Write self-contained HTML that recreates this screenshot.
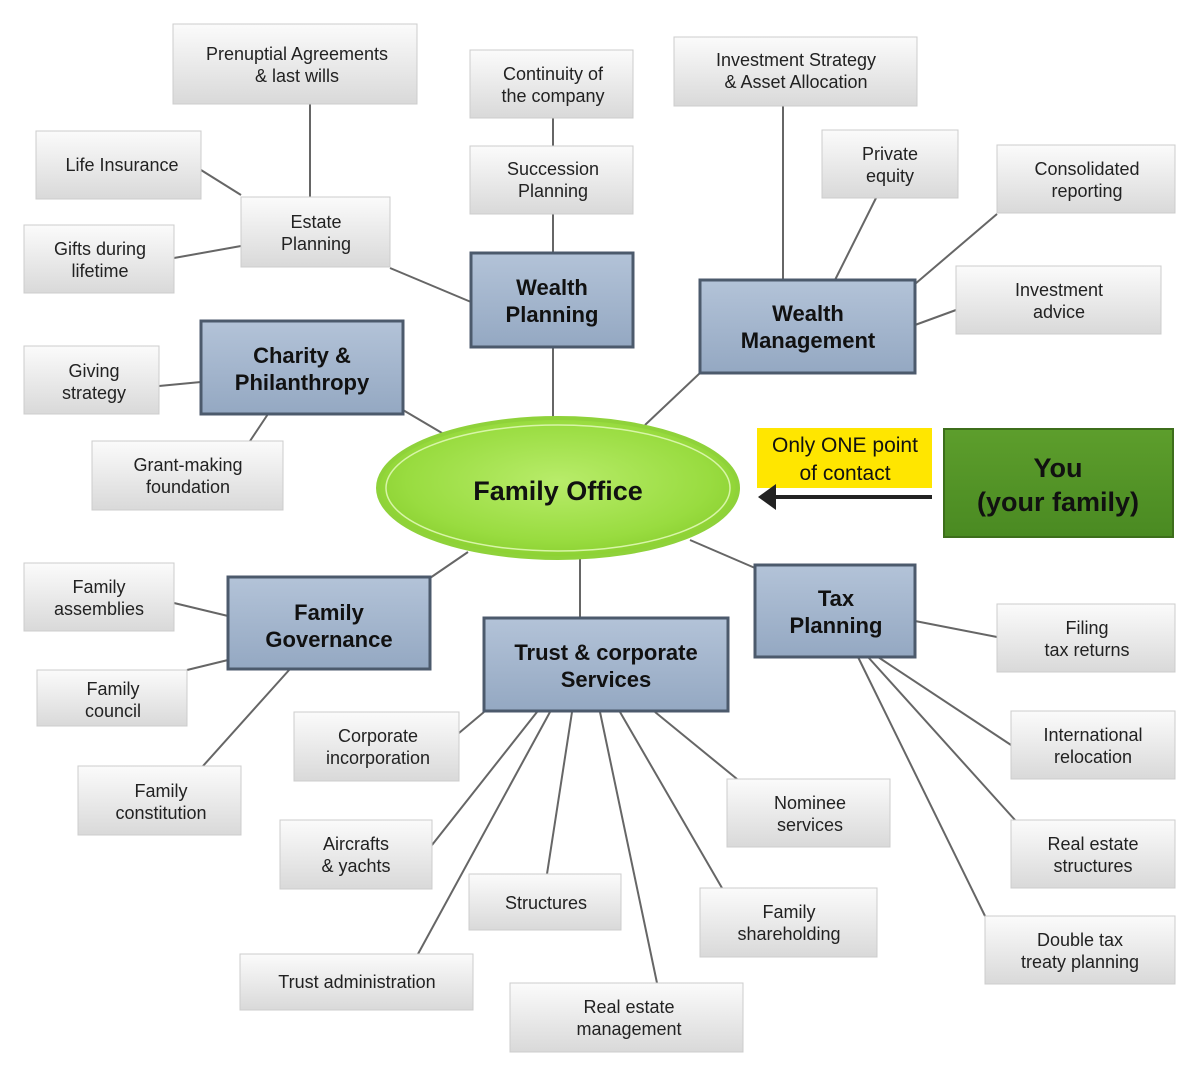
<!DOCTYPE html>
<html><head><meta charset="utf-8"><style>
body{margin:0;background:#fff;width:1200px;height:1075px;overflow:hidden}
svg text{font-family:"Liberation Sans",sans-serif}
.g text{font-size:18px;fill:#222}
.b text{font-size:22px;font-weight:bold;fill:#111}
</style></head><body>
<svg width="1200" height="1075" viewBox="0 0 1200 1075" xmlns="http://www.w3.org/2000/svg">
<defs>
<linearGradient id="gg" x1="0" y1="0" x2="0" y2="1"><stop offset="0" stop-color="#fbfbfb"/><stop offset="1" stop-color="#d9d9d9"/></linearGradient>
<linearGradient id="bg" x1="0" y1="0" x2="0" y2="1"><stop offset="0" stop-color="#b3c3d8"/><stop offset="1" stop-color="#94a8c2"/></linearGradient>
<radialGradient id="eg" cx="0.5" cy="0.45" r="0.6"><stop offset="0" stop-color="#b8ec6a"/><stop offset="0.7" stop-color="#99dc40"/><stop offset="1" stop-color="#86cc2c"/></radialGradient>
<linearGradient id="grg" x1="0" y1="0" x2="0" y2="1"><stop offset="0" stop-color="#5d9e2c"/><stop offset="1" stop-color="#4a8a22"/></linearGradient>
</defs>
<g stroke="#666" stroke-width="2" fill="none">
<line x1="310" y1="104" x2="310" y2="197"/><line x1="201" y1="170" x2="241" y2="195"/><line x1="174" y1="258" x2="241" y2="246"/>
<line x1="390" y1="268" x2="471" y2="302"/><line x1="553" y1="118" x2="553" y2="146"/><line x1="553" y1="214" x2="553" y2="253"/>
<line x1="553" y1="347" x2="553" y2="418"/><line x1="783" y1="106" x2="783" y2="280"/><line x1="876" y1="198" x2="835" y2="280"/>
<line x1="997" y1="214" x2="915" y2="284"/><line x1="956" y1="310" x2="915" y2="325"/><line x1="700" y1="373" x2="645" y2="425"/>
<line x1="159" y1="386" x2="201" y2="382"/><line x1="250" y1="441" x2="268" y2="414"/><line x1="403" y1="410" x2="442" y2="433"/>
<line x1="468" y1="552" x2="430" y2="578"/><line x1="174" y1="603" x2="228" y2="616"/><line x1="187" y1="670" x2="228" y2="660"/>
<line x1="203" y1="766" x2="290" y2="669"/><line x1="580" y1="558" x2="580" y2="618"/><line x1="690" y1="540" x2="755" y2="568"/>
<line x1="915" y1="621" x2="997" y2="637"/><line x1="878" y1="657" x2="1011" y2="745"/><line x1="868" y1="657" x2="1015" y2="820"/>
<line x1="858" y1="657" x2="985" y2="916"/><line x1="484" y1="712" x2="459" y2="733"/><line x1="537" y1="712" x2="432" y2="845"/>
<line x1="550" y1="712" x2="418" y2="954"/><line x1="572" y1="712" x2="547" y2="874"/><line x1="600" y1="712" x2="657" y2="983"/>
<line x1="620" y1="712" x2="722" y2="888"/><line x1="655" y1="712" x2="737" y2="779"/>
</g>
<g class="g" text-anchor="middle">
<g fill="url(#gg)" stroke="#ccc" stroke-width="1">
<rect x="173" y="24" width="244" height="80"/><rect x="470" y="50" width="163" height="68"/><rect x="674" y="37" width="243" height="69"/>
<rect x="36" y="131" width="165" height="68"/><rect x="241" y="197" width="149" height="70"/><rect x="470" y="146" width="163" height="68"/>
<rect x="822" y="130" width="136" height="68"/><rect x="997" y="145" width="178" height="68"/><rect x="24" y="225" width="150" height="68"/>
<rect x="956" y="266" width="205" height="68"/><rect x="24" y="346" width="135" height="68"/><rect x="92" y="441" width="191" height="69"/>
<rect x="24" y="563" width="150" height="68"/><rect x="37" y="670" width="150" height="56"/><rect x="78" y="766" width="163" height="69"/>
<rect x="294" y="712" width="165" height="69"/><rect x="280" y="820" width="152" height="69"/><rect x="469" y="874" width="152" height="56"/>
<rect x="240" y="954" width="233" height="56"/><rect x="510" y="983" width="233" height="69"/><rect x="700" y="888" width="177" height="69"/>
<rect x="727" y="779" width="163" height="68"/><rect x="997" y="604" width="178" height="68"/><rect x="1011" y="711" width="164" height="68"/>
<rect x="1011" y="820" width="164" height="68"/><rect x="985" y="916" width="190" height="68"/>
</g>
<text x="297" y="60">Prenuptial Agreements</text><text x="297" y="82">&amp; last wills</text>
<text x="553" y="80">Continuity of</text><text x="553" y="102">the company</text>
<text x="796" y="66">Investment Strategy</text><text x="796" y="88">&amp; Asset Allocation</text>
<text x="122" y="171">Life Insurance</text>
<text x="316" y="228">Estate</text><text x="316" y="250">Planning</text>
<text x="553" y="175">Succession</text><text x="553" y="197">Planning</text>
<text x="890" y="160">Private</text><text x="890" y="182">equity</text>
<text x="1087" y="175">Consolidated</text><text x="1087" y="197">reporting</text>
<text x="100" y="255">Gifts during</text><text x="100" y="277">lifetime</text>
<text x="1059" y="296">Investment</text><text x="1059" y="318">advice</text>
<text x="94" y="377">Giving</text><text x="94" y="399">strategy</text>
<text x="188" y="471">Grant-making</text><text x="188" y="493">foundation</text>
<text x="99" y="593">Family</text><text x="99" y="615">assemblies</text>
<text x="113" y="695">Family</text><text x="113" y="717">council</text>
<text x="161" y="797">Family</text><text x="161" y="819">constitution</text>
<text x="378" y="742">Corporate</text><text x="378" y="764">incorporation</text>
<text x="356" y="850">Aircrafts</text><text x="356" y="872">&amp; yachts</text>
<text x="546" y="909">Structures</text>
<text x="357" y="988">Trust administration</text>
<text x="629" y="1013">Real estate</text><text x="629" y="1035">management</text>
<text x="789" y="918">Family</text><text x="789" y="940">shareholding</text>
<text x="810" y="809">Nominee</text><text x="810" y="831">services</text>
<text x="1087" y="634">Filing</text><text x="1087" y="656">tax returns</text>
<text x="1093" y="741">International</text><text x="1093" y="763">relocation</text>
<text x="1093" y="850">Real estate</text><text x="1093" y="872">structures</text>
<text x="1080" y="946">Double tax</text><text x="1080" y="968">treaty planning</text>
</g>
<g class="b" text-anchor="middle">
<g fill="url(#bg)" stroke="#4c5a6c" stroke-width="3">
<rect x="471" y="253" width="162" height="94"/><rect x="700" y="280" width="215" height="93"/><rect x="201" y="321" width="202" height="93"/>
<rect x="228" y="577" width="202" height="92"/><rect x="484" y="618" width="244" height="93"/><rect x="755" y="565" width="160" height="92"/>
</g>
<text x="552" y="295">Wealth</text><text x="552" y="322">Planning</text>
<text x="808" y="321">Wealth</text><text x="808" y="348">Management</text>
<text x="302" y="363">Charity &amp;</text><text x="302" y="390">Philanthropy</text>
<text x="329" y="620">Family</text><text x="329" y="647">Governance</text>
<text x="606" y="660">Trust &amp; corporate</text><text x="606" y="687">Services</text>
<text x="836" y="606">Tax</text><text x="836" y="633">Planning</text>
</g>
<ellipse cx="558" cy="488" rx="180" ry="70" fill="url(#eg)" stroke="#8fd23a" stroke-width="4"/>
<ellipse cx="558" cy="488" rx="172" ry="63" fill="none" stroke="#d8f5a8" stroke-width="1.5"/>
<text x="558" y="500" text-anchor="middle" font-size="27" font-weight="bold" fill="#111">Family Office</text>
<rect x="757" y="428" width="175" height="60" fill="#ffe600"/>
<text x="845" y="452" text-anchor="middle" font-size="21" fill="#111">Only ONE point</text>
<text x="845" y="480" text-anchor="middle" font-size="21" fill="#111">of contact</text>
<line x1="932" y1="497" x2="775" y2="497" stroke="#222" stroke-width="4"/>
<polygon points="758,497 776,484 776,510" fill="#222"/>
<rect x="944" y="429" width="229" height="108" fill="url(#grg)" stroke="#3d6e1b" stroke-width="2"/>
<text x="1058" y="477" text-anchor="middle" font-size="27" font-weight="bold" fill="#111">You</text>
<text x="1058" y="511" text-anchor="middle" font-size="27" font-weight="bold" fill="#111">(your family)</text>
</svg>
</body></html>
